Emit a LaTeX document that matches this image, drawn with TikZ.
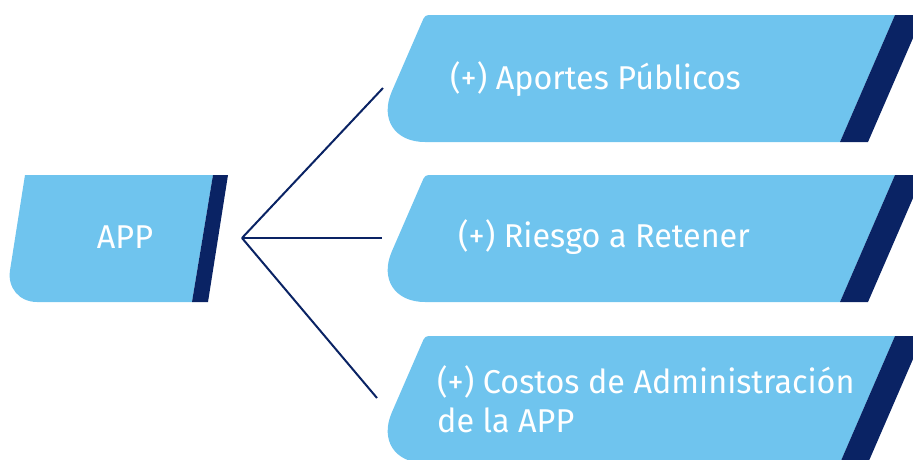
\documentclass[tikz,border=0pt]{standalone}
\usepackage{fontspec}
\setmainfont{Fira Sans}[FakeStretch=0.98]
\usepackage{tikz}
\usetikzlibrary{positioning}

\definecolor{skyfill}{HTML}{6FC4EE}
\definecolor{navyband}{HTML}{0A2364}

\begin{document}
\begin{tikzpicture}[
    x=1pt, y=-1pt,
    panel/.style={fill=skyfill},
    band/.style={fill=navyband},
    label/.style={
        text=white,
        font=\fontsize{33}{39}\selectfont,
        inner sep=0pt,
        align=left
    },
    link/.style={draw=navyband, line width=2pt}
]
\useasboundingbox (0,0) rectangle (913,459);

% left block
\fill[panel] (25,175) -- (213,175) -- (192,302) -- (37,302)
    .. controls (19.4,302) and (7.3,287.8) .. (10,270.4) -- cycle;
\fill[band] (213,175) -- (228,175) -- (208,302) -- (192,302) -- cycle;

% right blocks
\foreach \top in {15,175,336}{
    \fill[panel] (433,\top) -- (895,\top) -- (840,\top+127) -- (425,\top+127)
        .. controls (394.8,\top+127) and (379.8,\top+104.3) .. (391.8,\top+76.5)
        -- (421.8,\top+7.4) .. controls (425,\top) .. (433,\top) -- cycle;
    \fill[band] (895,\top) -- (923,\top) -- (868,\top+127) -- (840,\top+127) -- cycle;
}

\node[label, anchor=base] (app) at (125,248) {APP};
\node[label, anchor=base west] (aportes) at (450,89) {(+) Aportes Públicos};
\node[label, anchor=base west] (riesgo) at (458,247) {(+) Riesgo a Retener};
\node[label, anchor=base west] (costos) at (437,432) {(+) Costos de Administración\\de la APP};

\coordinate (fork) at (242,238);
\coordinate (aportes-in) at (383,88);
\coordinate (riesgo-in) at (382,238);
\coordinate (costos-in) at (377,398);

\draw[link] (fork) -- (aportes-in);
\draw[link] (fork) -- (riesgo-in);
\draw[link] (fork) -- (costos-in);

\end{tikzpicture}
\end{document}
